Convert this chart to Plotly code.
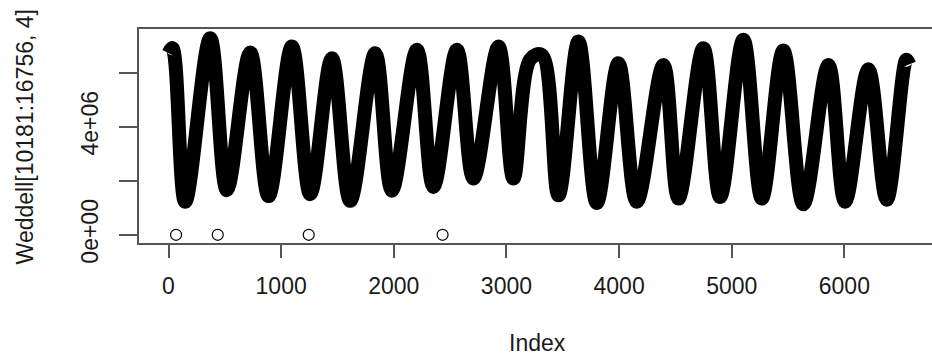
import plotly.graph_objects as go

# Series turning points (index, value)
series_idx = [1, 35, 148, 370, 518, 725, 888, 1095, 1258, 1450, 1613, 1835, 1983,
              2205, 2352, 2560, 2707, 2929, 3062, 3210, 3314, 3462, 3639, 3802,
              3994, 4157, 4393, 4527, 4748, 4897, 5103, 5267, 5458, 5636, 5858,
              6006, 6213, 6376, 6550, 6576]
series_val = [6.72e6, 6.90e6, 1.22e6, 7.27e6, 1.65e6, 6.74e6, 1.43e6, 6.96e6, 1.50e6,
              6.53e6, 1.26e6, 6.71e6, 1.63e6, 6.84e6, 1.77e6, 6.84e6, 2.08e6, 6.96e6,
              2.08e6, 6.48e6, 6.65e6, 1.46e6, 7.15e6, 1.18e6, 6.34e6, 1.22e6, 6.28e6,
              1.34e6, 6.90e6, 1.40e6, 7.21e6, 1.34e6, 6.81e6, 1.13e6, 6.28e6, 1.22e6,
              6.12e6, 1.30e6, 6.47e6, 6.30e6]

# Isolated zero-valued days
zero_idx = [67, 437, 1245, 2433]
zero_val = [0, 0, 0, 0]

x_ticks = [0, 1000, 2000, 3000, 4000, 5000, 6000]
y_ticks = [0, 2e6, 4e6, 6e6]
y_tick_text = ["0e+00", "", "4e+06", ""]

FONT = "Liberation Sans, Arial, sans-serif"
AXC = "#555555"

fig = go.Figure()
fig.add_trace(go.Scatter(
    x=series_idx, y=series_val, mode="lines",
    line=dict(color="black", width=14, shape="spline", smoothing=1.0),
    hoverinfo="skip", showlegend=False))
fig.add_trace(go.Scatter(
    x=zero_idx, y=zero_val, mode="markers",
    marker=dict(symbol="circle-open", size=11, color="black", line=dict(width=1.2)),
    showlegend=False))

fig.update_layout(
    width=932, height=356,
    margin=dict(l=139, r=0, t=29, b=113),
    paper_bgcolor="white", plot_bgcolor="white",
    font=dict(family=FONT, size=23, color="#1a1a1a"),
    xaxis=dict(range=[-262, 6778], tickvals=x_ticks, ticks="outside", ticklen=13,
               tickwidth=1.5, tickcolor=AXC, showline=True, linecolor=AXC, linewidth=1.5,
               mirror=True, showgrid=False, zeroline=False, ticklabelstandoff=9,
               automargin=False, tickfont=dict(size=23)),
    yaxis=dict(range=[-0.303e6, 7.608e6], tickvals=y_ticks, ticktext=y_tick_text,
               ticks="outside", ticklen=18, tickwidth=1.5, tickcolor=AXC,
               showline=True, linecolor=AXC, linewidth=1.5, mirror=False,
               showgrid=False, zeroline=False, tickangle=-90, ticklabelstandoff=12,
               automargin=False, tickfont=dict(size=23)),
    annotations=[
        dict(text="Index", xref="paper", yref="paper", x=0.503, y=-0.465,
             xanchor="center", yanchor="middle", showarrow=False, font=dict(size=23)),
        dict(text="Weddell[10181:16756, 4]", xref="paper", yref="paper", x=-0.1438, y=0.498,
             xanchor="center", yanchor="middle", textangle=-90, showarrow=False,
             font=dict(size=23)),
    ],
)

fig.write_html("out.html", config={"displayModeBar": False},
               post_script="document.body.style.margin='0';document.body.style.padding='0';")
